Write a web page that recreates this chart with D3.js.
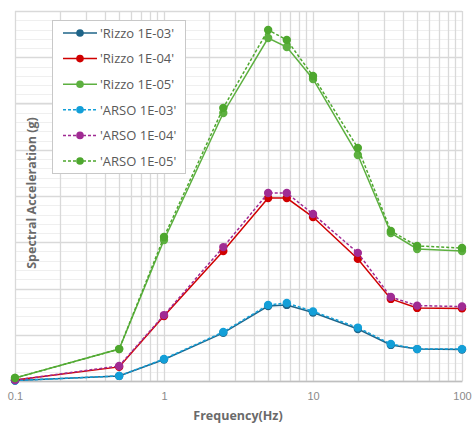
<!DOCTYPE html>
<html><head><meta charset="utf-8">
<script src="https://cdn.jsdelivr.net/npm/d3@7"></script>
<style>body{margin:0;background:#fff;} svg{display:block;font-family:"Open Sans","Noto Sans",sans-serif;}</style>
</head><body><svg id="c" width="472" height="424"></svg>
<script>
const freqs = [0.1, 0.5, 1, 2.5, 5, 6.67, 10, 20, 33.3, 50, 100];
const rizzo1e03 = [0.002, 0.022, 0.093, 0.208, 0.324, 0.329, 0.296, 0.225, 0.156, 0.138, 0.136];
const rizzo1e04 = [0.004, 0.061, 0.281, 0.562, 0.791, 0.791, 0.709, 0.528, 0.355, 0.316, 0.314];
const rizzo1e05 = [0.013, 0.138, 0.610, 1.159, 1.483, 1.444, 1.306, 0.977, 0.640, 0.571, 0.562];
const arso1e03 = [0.002, 0.022, 0.095, 0.212, 0.329, 0.337, 0.301, 0.231, 0.160, 0.138, 0.138];
const arso1e04 = [0.004, 0.065, 0.285, 0.579, 0.813, 0.813, 0.722, 0.554, 0.363, 0.326, 0.322];
const arso1e05 = [0.013, 0.138, 0.623, 1.181, 1.518, 1.475, 1.319, 1.008, 0.649, 0.584, 0.575];
const seriesNames = ["'Rizzo 1E-03'", "'Rizzo 1E-04'", "'Rizzo 1E-05'", "'ARSO 1E-03'", "'ARSO 1E-04'", "'ARSO 1E-05'"];
const seriesColors = ["#1f6488", "#d00000", "#5db040", "#139fd8", "#a02b93", "#4ea72e"];
const seriesDashed = [false, false, false, true, true, true];
const xTickLabels = ["0.1", "1", "10", "100"];
const xTitle = "Frequency(Hz)";
const yTitle = "Spectral Acceleration (g)";

const allValues = [rizzo1e03, rizzo1e04, rizzo1e05, arso1e03, arso1e04, arso1e05];
const series = seriesNames.map((n, i) => ({name: n, color: seriesColors[i], dashed: seriesDashed[i],
  pts: freqs.map((f, j) => ({f, v: allValues[i][j]}))}));

const svg = d3.select("#c");
const L = 15, R = 462, T = 11, B = 381;
const x = d3.scaleLog().domain([0.1, 100]).range([L, R]);
const y = d3.scaleLinear().domain([0, 1.6]).range([B, T]);

// grid
const g = svg.append("g");
const minorY = d3.range(0, 1.6001, 0.04);
g.selectAll(".hm").data(minorY).enter().append("line")
  .attr("x1", L).attr("x2", R).attr("y1", d => Math.round(y(d)) + 0.5).attr("y2", d => Math.round(y(d)) + 0.5)
  .attr("stroke", "#efefef").attr("stroke-width", 1);
const majorY = d3.range(0, 1.6001, 0.2);
g.selectAll(".hM").data(majorY).enter().append("line")
  .attr("x1", L).attr("x2", R).attr("y1", d => Math.round(y(d)) + 0.5).attr("y2", d => Math.round(y(d)) + 0.5)
  .attr("stroke", "#d9d9d9").attr("stroke-width", 1.3);
const xt = x.ticks();
g.selectAll(".v").data(xt).enter().append("line")
  .attr("x1", d => Math.round(x(d)) + 0.5).attr("x2", d => Math.round(x(d)) + 0.5).attr("y1", T).attr("y2", B)
  .attr("stroke", "#d9d9d9").attr("stroke-width", 1.3);

// axis
const xAxis = d3.axisBottom(x).tickValues([0.1, 1, 10, 100]).tickFormat((d, i) => xTickLabels[i]).tickSize(0).tickPadding(11);
const ax = svg.append("g").attr("transform", `translate(0,${B})`).call(xAxis);
ax.select(".domain").attr("stroke", "#bfbfbf").attr("stroke-width", 1.3);
ax.selectAll("text").attr("fill", "#8a8a8a").attr("font-size", 11);

// lines
const line = d3.line().x(d => x(d.f)).y(d => y(d.v));
const sg = svg.append("g");
series.forEach(s => {
  sg.append("path").attr("d", line(s.pts)).attr("fill", "none").attr("stroke", s.color)
    .attr("stroke-width", 1.5).attr("stroke-dasharray", s.dashed ? "3,2" : null);
  sg.selectAll(null).data(s.pts).enter().append("circle")
    .attr("cx", d => x(d.f)).attr("cy", d => y(d.v)).attr("r", 4.2).attr("fill", s.color);
});

// titles
svg.append("text").attr("x", 238).attr("y", 420).attr("text-anchor", "middle")
  .attr("font-size", 12.5).attr("font-weight", "bold").attr("fill", "#6a6a6a").text(xTitle);
svg.append("text").attr("transform", `translate(36,193) rotate(-90)`).attr("text-anchor", "middle")
  .attr("font-size", 12.5).attr("font-weight", "bold").attr("fill", "#6a6a6a").text(yTitle);

// legend
const lg = svg.append("g");
lg.append("rect").attr("x", 52.5).attr("y", 20.5).attr("width", 133).attr("height", 153)
  .attr("fill", "#fff").attr("stroke", "#c8c8c8").attr("stroke-width", 1);
series.forEach((s, i) => {
  const yy = 33 + i * 25.6;
  lg.append("line").attr("x1", 63).attr("x2", 97).attr("y1", yy).attr("y2", yy).attr("stroke", s.color)
    .attr("stroke-width", 1.5).attr("stroke-dasharray", s.dashed ? "3,2" : null);
  lg.append("circle").attr("cx", 80).attr("cy", yy).attr("r", 3.8).attr("fill", s.color);
  lg.append("text").attr("x", 100).attr("y", yy + 4.8).attr("font-size", 13).attr("fill", "#595959").text(s.name);
});
</script></body></html>
